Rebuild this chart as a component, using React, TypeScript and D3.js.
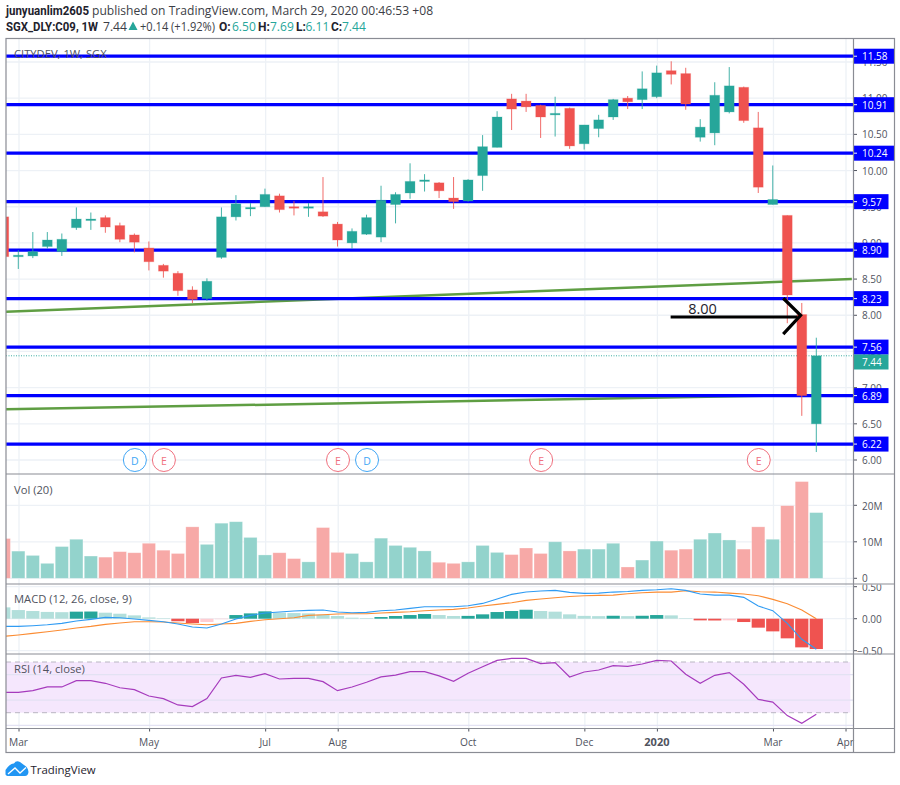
import React from "react";
import * as d3 from "d3";

const opens = [9.36,8.82,8.82,8.95,8.88,9.21,9.32,9.35,9.24,9.11,8.93,8.69,8.58,8.35,8.23,8.80,9.36,9.48,9.50,9.65,9.50,9.49,9.43,9.26,9.00,9.12,9.08,9.53,9.69,9.86,9.83,9.62,9.58,9.93,10.32,10.99,10.96,10.90,10.77,10.86,10.37,10.58,10.74,11.00,10.98,11.02,11.38,11.34,10.46,10.52,10.81,11.15,10.59,9.53,9.38,8.01,6.50];
const highs = [9.40,8.90,9.15,9.15,9.13,9.49,9.42,9.38,9.28,9.13,9.02,8.71,8.61,8.40,8.51,9.49,9.66,9.55,9.75,9.68,9.58,9.55,9.91,9.29,9.20,9.39,9.79,9.70,10.10,9.95,9.84,9.91,9.88,10.49,10.82,11.06,11.06,10.91,11.02,10.87,10.63,10.77,10.99,11.03,11.37,11.45,11.51,11.42,10.71,11.22,11.43,11.16,10.81,10.07,9.38,8.17,7.69];
const lows = [8.79,8.64,8.79,8.92,8.82,9.18,9.18,9.14,9.01,8.87,8.62,8.52,8.27,8.17,8.20,8.78,9.31,9.37,9.50,9.42,9.38,9.36,9.36,8.95,8.92,9.11,9.01,9.27,9.61,9.71,9.62,9.47,9.57,9.72,10.32,10.56,10.81,10.45,10.47,10.30,10.29,10.46,10.70,10.85,10.85,11.00,11.19,10.84,10.40,10.35,10.79,10.66,9.69,9.53,7.89,6.61,6.11];
const closes = [8.81,8.83,8.88,9.04,9.05,9.33,9.33,9.22,9.05,9.01,8.74,8.61,8.34,8.22,8.47,9.36,9.54,9.49,9.67,9.46,9.48,9.50,9.37,9.04,9.16,9.35,9.59,9.67,9.85,9.87,9.72,9.57,9.87,10.33,10.74,10.85,10.88,10.74,10.79,10.34,10.63,10.70,10.98,10.95,11.13,11.35,11.33,10.92,10.60,11.04,11.17,10.69,9.77,9.60,8.28,6.89,7.44];
const volumes = [10.9,7.45,6.27,4.1,8.7,10.7,6.1,5.8,7.3,7.0,9.6,7.7,6.8,14.1,9.3,15.1,15.5,11.2,6.4,7.0,5.4,4.5,13.9,7.1,6.8,4.5,11.0,9.0,8.5,7.5,4.4,4.1,4.5,9.0,7.1,6.5,8.3,6.8,10.0,7.5,8.0,8.0,9.6,3.1,5.0,10.2,7.7,8.0,10.7,12.4,10.5,8.0,14.1,10.7,19.9,26.5,18.0];
const macdHist = [0.177,0.135,0.12,0.106,0.102,0.11,0.112,0.094,0.078,0.052,0.02,0.005,-0.04,-0.068,-0.052,-0.002,0.057,0.083,0.115,0.094,0.088,0.083,0.062,0.042,0.016,0.01,0.026,0.042,0.057,0.073,0.057,0.042,0.044,0.068,0.104,0.12,0.14,0.12,0.11,0.068,0.044,0.04,0.046,0.04,0.046,0.057,0.052,0.005,-0.026,-0.028,-0.026,-0.052,-0.14,-0.198,-0.307,-0.448,-0.474];
const macdLine = [-0.12,-0.12,-0.109,-0.094,-0.073,-0.036,-0.01,0.021,0.016,-0.005,-0.026,-0.047,-0.083,-0.13,-0.146,-0.083,-0.005,0.052,0.088,0.104,0.12,0.13,0.135,0.104,0.094,0.099,0.125,0.135,0.161,0.187,0.187,0.187,0.203,0.239,0.307,0.38,0.416,0.432,0.442,0.411,0.395,0.40,0.416,0.426,0.442,0.452,0.468,0.442,0.385,0.369,0.369,0.333,0.198,0.125,-0.073,-0.322,-0.478];
const signalLine = [-0.276,-0.255,-0.229,-0.203,-0.177,-0.146,-0.12,-0.088,-0.068,-0.047,-0.047,-0.052,-0.068,-0.083,-0.094,-0.083,-0.073,-0.042,-0.016,0,0.016,0.052,0.062,0.073,0.078,0.078,0.088,0.099,0.109,0.125,0.135,0.146,0.166,0.198,0.224,0.25,0.286,0.307,0.328,0.348,0.359,0.364,0.369,0.39,0.406,0.416,0.416,0.437,0.421,0.416,0.40,0.385,0.359,0.302,0.234,0.135,0];
const rsiValues = [46.1,46.1,47.4,50.3,50.3,55.3,55.3,53.2,49.7,48.2,43.2,41.1,36.1,34.8,41.1,57.4,59.5,57.9,60.8,56.6,57.1,57.1,54.5,47.4,50.3,54,58.2,59.7,62.4,62.4,59,54.7,61.1,66.3,71.3,72.9,72.9,68.7,69.5,58.2,62.1,63.7,67.1,66.6,68.4,71.3,70.8,60.3,53.2,59.5,61.6,52.4,40.5,38.4,27.7,21.6,28.7];

const levelValues = [11.58,10.91,10.24,9.57,8.9,8.23,7.56,6.89,6.22];
const priceTicks = [6,6.5,7,7.5,8,8.5,9,9.5,10,10.5,11,11.5];
const volTicks = [0,10,20];
const macdTicks = [0.5,0,-0.5];
const rsiGrid = [60,40,20];
const timeTicks: [number, string][] = [[1,"Mar"],[10,"May"],[18,"Jul"],[23,"Aug"],[32,"Oct"],[40,"Dec"],[45,"2020"],[53,"Mar"],[58,"Apr"]];
const eventMarks: [number, string][] = [[9,"D"],[11,"E"],[23,"E"],[25,"D"],[37,"E"],[52,"E"]];
const trendLines = [[[0.15,8.05],[58.45,8.50]],[[0.15,6.70],[54.5,6.895]]];
const arrowShaft = [[45.96,7.976],[54.7,7.976]];
const arrowHead = [[53.72,8.235],[54.92,8.0],[53.72,7.74]];
const lastPrice = 7.44;

const GREEN = "#26a69a", RED = "#ef5350", BLUE = "#0000ff", GRID = "#edf1f6", FRAME = "#8a8c94", AXIS = "#50535e";
const FONT = "'Open Sans', sans-serif";
const BOLD = "Roboto, sans-serif";
const L = 6, AX = 853.5, R = 894.5, T = 38.5, PB = 474, VB = 584, MB = 654, RB = 728.5, B = 752.5;

const x = d3.scaleLinear().domain([0, 56]).range([3.8, 816.3]);
const y = d3.scaleLinear().domain([6, 11.5]).range([460, 62]);
const yVol = d3.scaleLinear().domain([0, 20]).range([578.3, 505.3]);
const yMacd = d3.scaleLinear().domain([-0.5, 0.5]).range([650.7, 586.7]);
const yRsi = d3.scaleLinear().domain([30, 70]).range([712.7, 662]);

const idx = d3.range(opens.length);
const priceLine = d3.line<number[]>().x(d => x(d[0])).y(d => y(d[1]));
const macdPath = d3.line<number>().x((_, i) => x(i)).y(d => yMacd(d));
const rsiPath = d3.line<number>().x((_, i) => x(i)).y(d => yRsi(d));

function histColor(i: number) {
  const v = macdHist[i], p = i > 0 ? macdHist[i - 1] : v + 1;
  if (v >= 0) return v >= p ? "#26a69a" : "#b2dfdb";
  return v <= p ? "#ef5350" : "#ffcdd2";
}
const AxisText = (p: any) => <text fontFamily={FONT} fontSize={10} fill={AXIS} dominantBaseline="central" {...p} />;

export default function App() {
  const up = (i: number) => closes[i] >= opens[i];
  const t1 = { fontFamily: FONT, fontSize: 12.1, fill: "#3c3e46" } as const;
  const bold = { fontFamily: BOLD, fontSize: 12, fontWeight: 700, fill: "#1e222d" } as const;
  const val = { fontFamily: FONT, fontSize: 12, fill: GREEN } as const;
  return (
    <svg width={900} height={785} style={{ position: "absolute", left: 0, top: 0, display: "block", background: "#fff" }}>
      <defs>
        <clipPath id="main"><rect x={L} y={T} width={AX - L} height={PB - T} /></clipPath>
        <clipPath id="vol"><rect x={L} y={PB} width={AX - L} height={VB - PB} /></clipPath>
        <clipPath id="macd"><rect x={L} y={VB} width={AX - L} height={MB - VB} /></clipPath>
        <clipPath id="rsi"><rect x={L} y={MB} width={AX - L} height={RB - MB} /></clipPath>
        <clipPath id="macdAx"><rect x={AX} y={VB + 0.5} width={R - AX} height={MB - VB} /></clipPath>
      </defs>

      <text x={6} y={15} {...bold} fontSize={12.6} textLength={83} lengthAdjust="spacingAndGlyphs">junyuanlim2605</text>
      <text x={92} y={15} {...t1}>published on TradingView.com, March 29, 2020 00:46:53 +08</text>
      <text x={6} y={30.5} {...bold} textLength={92} lengthAdjust="spacingAndGlyphs">SGX_DLY:C09, 1W</text>
      <text x={103} y={30.5} {...t1}>7.44</text>
      <path d={d3.line()([[128.5, 30], [137.5, 30], [133, 21.5]]) + "Z"} fill={GREEN} />
      <text x={140} y={30.5} {...t1} textLength={75} lengthAdjust="spacingAndGlyphs">+0.14 (+1.92%)</text>
      <text x={219} y={30.5} {...bold}>O:</text><text x={232} y={30.5} {...val}>6.50</text>
      <text x={258} y={30.5} {...bold}>H:</text><text x={270} y={30.5} {...val}>7.69</text>
      <text x={296} y={30.5} {...bold}>L:</text><text x={305.5} y={30.5} {...val}>6.11</text>
      <text x={331} y={30.5} {...bold}>C:</text><text x={342} y={30.5} {...val}>7.44</text>

      {/* grids */}
      {timeTicks.map(([i], k) => <line key={k} x1={x(i) + 0.7} x2={x(i) + 0.7} y1={T} y2={RB} stroke={GRID} strokeWidth={1.3} />)}
      {priceTicks.map(p => <line key={p} x1={L} x2={AX} y1={y(p)} y2={y(p)} stroke={GRID} strokeWidth={1.3} />)}
      {volTicks.map(v => <line key={v} x1={L} x2={AX} y1={yVol(v)} y2={yVol(v)} stroke={GRID} strokeWidth={1.3} />)}
      {macdTicks.map(v => <line key={v} x1={L} x2={AX} y1={yMacd(v)} y2={yMacd(v)} stroke={GRID} strokeWidth={1.3} />)}

      {/* RSI */}
      <rect x={L} y={yRsi(70)} width={x(58) + 5 - L} height={yRsi(30) - yRsi(70)} fill="#f5e7fd" />
      {rsiGrid.map(v => <line key={v} x1={L} x2={AX} y1={yRsi(v)} y2={yRsi(v)} stroke="#e3e2f3" strokeWidth={1.2} />)}
      {[70, 30].map(v => <line key={v} x1={L} x2={x(58) + 5} y1={yRsi(v)} y2={yRsi(v)} stroke="#b9b6c2" strokeWidth={1} strokeDasharray="5 4" />)}
      <g clipPath="url(#rsi)"><path d={rsiPath(rsiValues)!} fill="none" stroke="#a63bbd" strokeWidth={1.2} /></g>

      {/* main pane */}
      <g clipPath="url(#main)">
        {trendLines.map((t, k) => <path key={k} d={priceLine(t)!} fill="none" stroke="#5f9e43" strokeWidth={2.5} />)}
        <line x1={L} x2={AX} y1={y(lastPrice)} y2={y(lastPrice)} stroke={GREEN} strokeWidth={0.9} strokeDasharray="1 1.5" />
        {levelValues.map(p => <line key={p} x1={L} x2={AX} y1={y(p)} y2={y(p)} stroke={BLUE} strokeWidth={3.2} />)}
        {idx.map(i => {
          const c = up(i) ? GREEN : RED;
          const top = y(Math.max(opens[i], closes[i])), bot = y(Math.min(opens[i], closes[i]));
          return <g key={i}>
            <line x1={x(i)} x2={x(i)} y1={y(highs[i])} y2={y(lows[i])} stroke={c} strokeWidth={1} opacity={0.85} />
            <rect x={x(i) - 4.9} y={top} width={9.8} height={Math.max(bot - top, 1.5)} fill={c} stroke={c} strokeOpacity={0.25} strokeWidth={1} />
          </g>;
        })}
        {eventMarks.map(([i, s], k) => {
          const c = s === "D" ? "#41a6f5" : "#f0717f";
          return <g key={k}>
            <circle cx={x(i) + 0.5} cy={460} r={11.5} fill="#fff" stroke={c} strokeWidth={1} />
            <text x={x(i) + 0.5} y={460.5} textAnchor="middle" dominantBaseline="central" fontFamily={FONT} fontSize={10.5} fill={c}>{s}</text>
          </g>;
        })}
        <path d={priceLine(arrowShaft)!} fill="none" stroke="#000" strokeWidth={3.2} />
        <path d={priceLine(arrowHead)!} fill="none" stroke="#000" strokeWidth={3.2} />
        <text x={x(arrowShaft[0][0]) + 17.5} y={y(arrowShaft[0][1]) - 3.5} fontFamily={FONT} fontSize={14.5} fill="#1e222d">8.00</text>
      </g>
      <text x={14} y={57.5} fontFamily={FONT} fontSize={11.2} fill="#50535e">CITYDEV, 1W, SGX</text>

      {/* volume */}
      <g clipPath="url(#vol)">
        {volumes.map((v, i) => (
          <rect key={i} x={x(i) - 6.6} y={yVol(v)} width={13.2} height={yVol(0) - yVol(v)}
            fill={up(i) ? "#93d3cc" : "#f7a9a7"} stroke="#fff" strokeOpacity={0.4} strokeWidth={0.7} />
        ))}
      </g>
      <text x={14} y={494} fontFamily={FONT} fontSize={11.2} fill="#50535e">Vol (20)</text>

      {/* MACD */}
      <g clipPath="url(#macd)">
        {macdHist.map((v, i) => {
          const a = yMacd(Math.max(v, 0)), b = yMacd(Math.min(v, 0));
          return <rect key={i} x={x(i) - 6.6} y={a} width={13.2} height={Math.max(b - a, 0.5)} fill={histColor(i)} />;
        })}
        <path d={macdPath(signalLine)!} fill="none" stroke="#fb8c33" strokeWidth={1.1} />
        <path d={macdPath(macdLine)!} fill="none" stroke="#2f9bf3" strokeWidth={1.1} />
      </g>
      <text x={14} y={603} fontFamily={FONT} fontSize={11.2} fill="#50535e">MACD (12, 26, close, 9)</text>
      <text x={14} y={673} fontFamily={FONT} fontSize={11.2} fill="#50535e">RSI (14, close)</text>

      {/* price axis */}
      {priceTicks.map(p => <g key={p}>
        <line x1={AX} x2={AX + 3.5} y1={y(p)} y2={y(p)} stroke={AXIS} />
        <AxisText x={862} y={y(p)}>{d3.format(".2f")(p)}</AxisText>
      </g>)}
      {levelValues.map(p => {
        const s = d3.format(".2f")(p);
        return <g key={p}>
          <rect x={AX + 0.5} y={y(p) - 7.5} width={s.length > 4 ? 40 : 34.5} height={15} fill={BLUE} />
          <line x1={AX} x2={AX + 3.5} y1={y(p)} y2={y(p)} stroke="#fff" />
          <AxisText x={862} y={y(p)} fill="#fff">{s}</AxisText>
        </g>;
      })}
      <rect x={AX + 0.5} y={354.5} width={34.5} height={15} fill={GREEN} />
      <AxisText x={862} y={362} fill="#fff">{d3.format(".2f")(lastPrice)}</AxisText>

      {volTicks.map(v => <g key={v}>
        <line x1={AX} x2={AX + 3.5} y1={yVol(v)} y2={yVol(v)} stroke={AXIS} />
        <AxisText x={862} y={yVol(v) - (v === 0 ? 0 : -0.5)}>{v === 0 ? "0" : v + "M"}</AxisText>
      </g>)}
      <g clipPath="url(#macdAx)">
        {macdTicks.map(v => <g key={v}>
          <line x1={AX} x2={AX + 3.5} y1={yMacd(v)} y2={yMacd(v)} stroke={AXIS} />
          <AxisText x={v < 0 ? 862 - 5 : 862} y={yMacd(v)}>{v < 0 ? "\u2212" + d3.format(".2f")(-v) : d3.format(".2f")(v)}</AxisText>
        </g>)}
      </g>

      {/* time axis */}
      {timeTicks.map(([i, s], k) => <g key={k}>
        <line x1={x(i) + 0.7} x2={x(i) + 0.7} y1={RB} y2={RB + 3} stroke={AXIS} />
        <text x={x(i) + 0.2} y={741.5} textAnchor="middle" dominantBaseline="central" fontFamily={FONT} fontSize={s === "2020" ? 11 : 10.2}
          fontWeight={s === "2020" ? 700 : 400} fill={AXIS}>{s}</text>
      </g>)}

      {/* frames */}
      <rect x={L} y={T} width={R - L} height={B - T} fill="none" stroke={FRAME} strokeWidth={1.2} />
      <line x1={AX} x2={AX} y1={T} y2={B} stroke={FRAME} strokeWidth={1.2} />
      {[PB, VB, MB, RB].map(v => <line key={v} x1={L} x2={R} y1={v} y2={v} stroke={FRAME} strokeWidth={1.2} />)}

      {/* logo */}
      <path d="M5.5 774 L5.5 770 Q10 763 14 763.5 Q16 760 20 762 L24 765 Q28 767 28.5 772 Q28 776 25 776 L9 776 Q5.5 776 5.5 774Z" fill="#2196f3" />
      <path d="M8 774 L15 768 L20 773 L26 767.5" fill="none" stroke="#fff" strokeWidth={1.3} />
      <text x={30.5} y={773.5} fontFamily={FONT} fontSize={11.4} fill="#1e222d">TradingView</text>
    </svg>
  );
}
